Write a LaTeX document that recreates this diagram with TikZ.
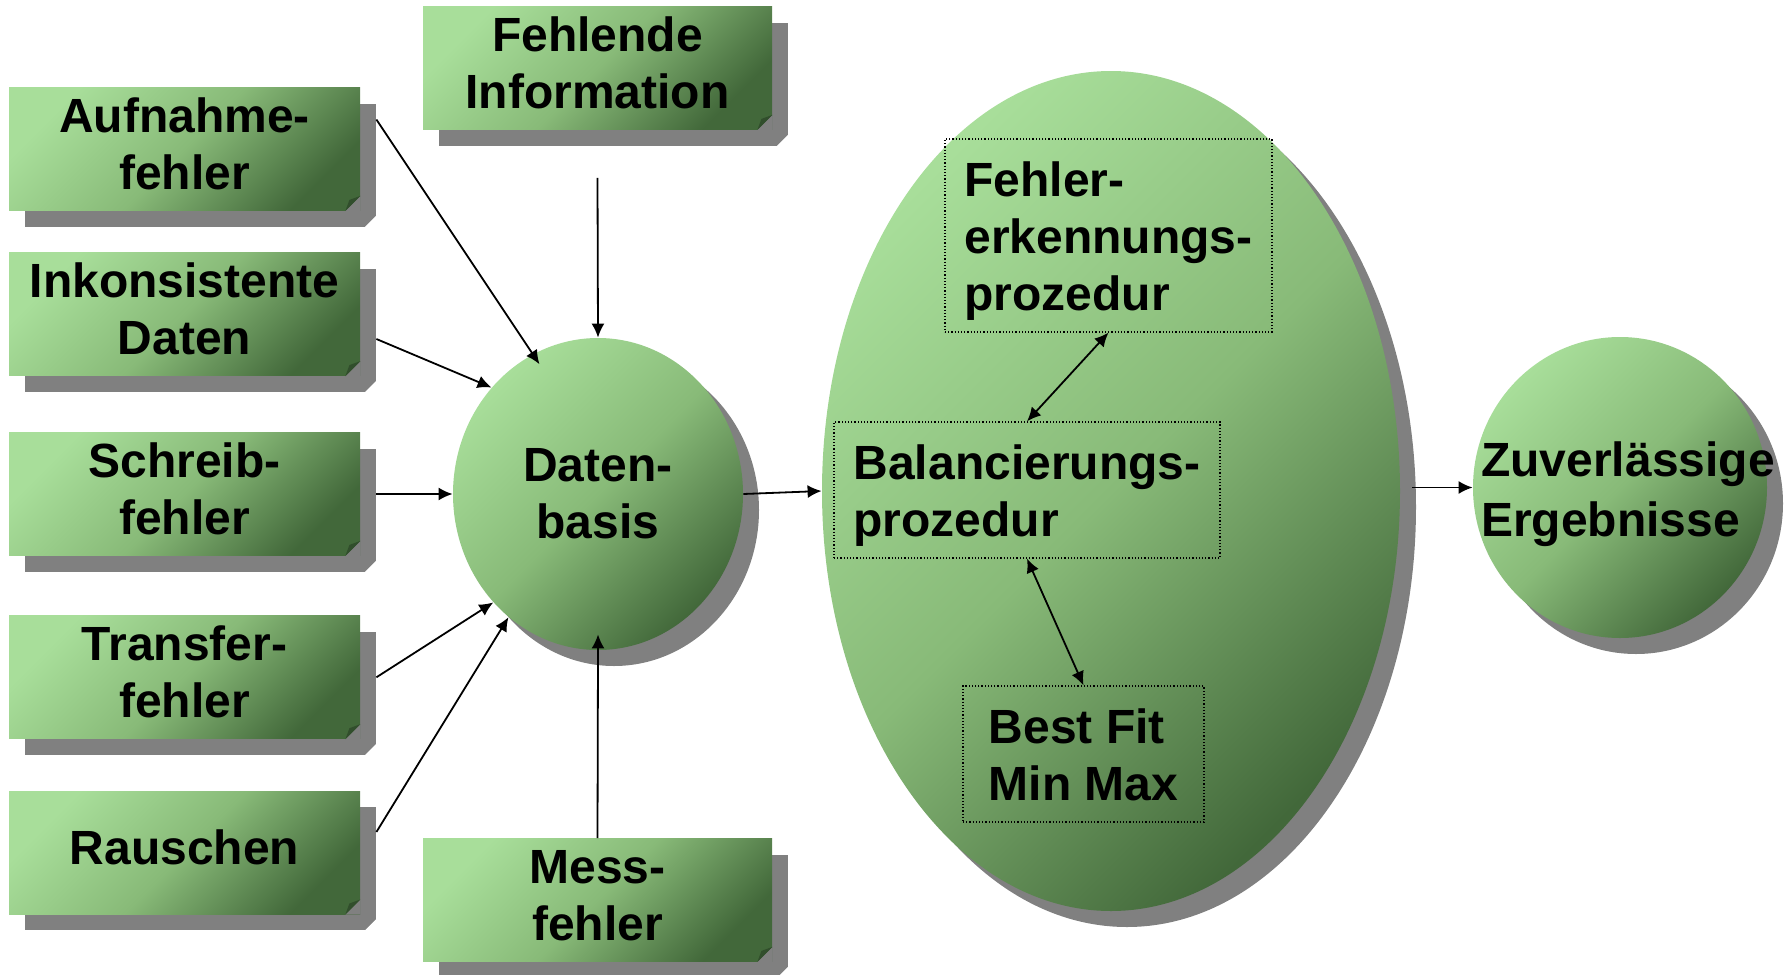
\documentclass[tikz,border=0pt]{standalone}
\usepackage{fontspec}
\setmainfont{Liberation Sans}
\usetikzlibrary{shapes.geometric,shadows,arrows.meta,calc}
\definecolor{gl}{RGB}{168,222,154}
\definecolor{gm}{RGB}{136,186,120}
\definecolor{gd}{RGB}{66,104,58}
\definecolor{sg}{RGB}{128,128,128}
\newcommand{\sa}{\vrule height 20pt depth 8pt width 0pt}
\newcommand{\sbx}{\vrule height 23pt depth 5pt width 0pt}
\newcommand{\sz}{\vrule height 24pt depth 2.5pt width 0pt}
\begin{document}
\begin{tikzpicture}[x=0.5pt,y=-0.5pt,
  txt/.style={font=\fontsize{24}{28.5}\selectfont\bfseries},
  grad/.style={shading=axis, top color=gl, bottom color=gd, middle color=gm, shading angle=45},
  sh/.style={general shadow={shadow xshift=8pt, shadow yshift=-8pt, fill=sg}},
  srcbox/.style={rectangle, grad, sh, txt, align=center, minimum width=175.5pt, minimum height=61.5pt, inner sep=0pt},
  blob/.style={ellipse, grad, sh, txt, inner sep=0pt},
  dotbox/.style={rectangle, draw=black, densely dotted, line width=0.6pt, txt, align=left, inner sep=0pt},
  arr/.style={-{Latex[length=7pt,width=6.5pt]}, line width=0.9pt},
  darr/.style={{Latex[length=7pt,width=6.5pt]}-{Latex[length=7pt,width=6.5pt]}, line width=0.9pt}
]
\useasboundingbox (0,0) rectangle (1785,975);

% source boxes
\node[srcbox] (auf) at (184.5,149) {\sa Aufnahme-\\\sa fehler};
\node[srcbox] (inc) at (184.5,314.2) {\sa Inkonsistente\\\sa Daten};
\node[srcbox] (sch) at (184.5,494) {\sa Schreib-\\\sa fehler};
\node[srcbox] (tra) at (184.5,677.3) {\sa Transfer-\\\sa fehler};
\node[srcbox] (rau) at (184.5,852.6) {\sa Rauschen};
\node[srcbox, minimum width=174.5pt] (feh) at (597.5,68) {\sa Fehlende\\\sa Information};
\node[srcbox, minimum width=174.5pt] (mes) at (597.5,900) {\sa Mess-\\\sa fehler};

% folded corners
\foreach \n in {auf,inc,sch,tra,rau,feh,mes}{
  \fill[sg] ($(\n.south east)+(0,-15)$) -- (\n.south east) -- ($(\n.south east)+(-15,0)$) -- cycle;
  \fill[gd!75!black] ($(\n.south east)+(0,-15)$) -- ($(\n.south east)+(-15,0)$) -- ($(\n.south east)+(-11,-11)$) -- cycle;
  \fill[white] ($(\n.south east)+(16.5,4)$) -- ($(\n.south east)+(16.5,16.5)$) -- ($(\n.south east)+(4,16.5)$) -- cycle;
}

% circles and ellipse
\node[blob, minimum width=145pt, minimum height=156pt, align=center] (db) at (598,494) {Daten-\\basis};
\node[blob, minimum width=289pt, minimum height=420pt] (big) at (1111,491) {};
\node[blob, minimum width=147pt, minimum height=150.5pt, inner xsep=-75pt, align=left] (zv) at (1620,487.5) {\hspace*{8pt}\sz Zuverlässige\\\hspace*{8pt}\sz Ergebnisse};

% dotted boxes
\node[dotbox, minimum width=163.5pt, minimum height=96.5pt] (fe) at (1108.5,235.5) {\sbx Fehler-\\\sbx erkennungs-\\\sbx prozedur};
\node[dotbox, minimum width=193pt, minimum height=68pt] (bal) at (1027,490) {\sbx Balancierungs-\\\sbx prozedur};
\node[dotbox, minimum width=120.5pt, minimum height=68pt] (bf) at (1083.5,754) {\sbx Best Fit\\\sbx Min Max};

% connectors
\draw[arr, shorten >=-6pt] ($(auf.east)+(16,-29.5)$) -- (db.115);
\draw[arr] ($(inc.east)+(16,24.8)$) -- (db.135);
\draw[arr] ($(sch.east)+(16,0)$) -- (db.west);
\draw[arr] ($(tra.east)+(16,0)$) -- (db.226);
\draw[arr] ($(rau.east)+(16,-20.6)$) -- (db.234);
\draw[arr] ($(feh.south)+(0,48)$) -- (db.north);
\draw[arr, shorten >=-8pt] (mes.north) -- (db.south);
\draw[arr] (db.east) -- (big.west);
\draw[arr, shorten <=6pt] (zv.west -| big.east) -- (zv.west);
\draw[darr] (fe.south) -- (bal.north);
\draw[darr] (bal.south) -- (bf.north);
\end{tikzpicture}
\end{document}
